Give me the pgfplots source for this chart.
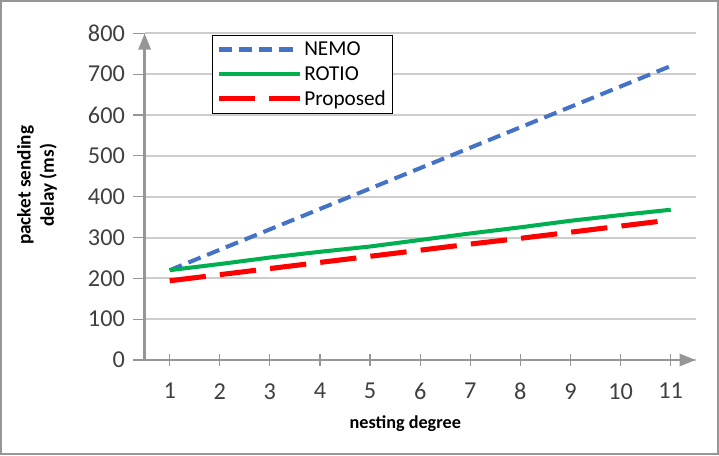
\documentclass[border=0pt]{standalone}
\usepackage{pgfplots}
\pgfplotsset{compat=1.18}
\usepackage{fontspec}
\setmainfont{Carlito}
\usetikzlibrary{arrows.meta}
\definecolor{nemo}{RGB}{68,114,196}
\definecolor{rotio}{RGB}{0,176,80}
\definecolor{prop}{RGB}{255,0,0}
\definecolor{axgray}{RGB}{150,150,150}
\definecolor{gridgray}{RGB}{205,205,205}
\definecolor{ticktext}{RGB}{64,64,64}
\begin{document}
\begin{tikzpicture}
\begin{axis}[
  scale only axis,
  width=545pt, height=323pt,
  xmin=0.5, xmax=11.5, ymin=0, ymax=800,
  axis lines=left,
  axis line style={axgray, line width=2.5pt},
  x axis line style={-{Triangle[length=16pt,width=12pt]}},
  y axis line style={-{Triangle[length=16pt,width=12pt]}},
  xtick={1,...,11}, ytick={0,100,...,800},
  ymajorgrids, grid style={gridgray, line width=2pt},
  xtick align=center, ytick align=outside,
  major tick length=11pt,
  every x tick/.style={axgray, line width=1.2pt},
  every y tick/.style={axgray, line width=1.2pt},
  /pgf/number format/assume math mode=true,
  tick label style={font=\fontsize{24}{26}\selectfont, text=ticktext},
  xticklabel style={yshift=-14pt},
  yticklabel style={xshift=-5pt},
  xlabel={\textbf{nesting degree}},
  every axis x label/.style={font=\fontsize{18}{20}\selectfont, at={(axis description cs:0.473,0)}, anchor=center, yshift=-63pt},
  ylabel={\textbf{packet sending}\\\textbf{delay (ms)}},
  every axis y label/.style={font=\fontsize{19}{23}\selectfont, align=center, at={(axis description cs:-0.195,0.535)}, anchor=center, rotate=90},
  legend style={at={(rel axis cs:0.122,1)}, anchor=north west, yshift=-2pt,
    draw=black, line width=0.8pt, font=\fontsize{21}{23}\selectfont,
    inner xsep=4pt, inner ysep=4pt, row sep=5pt},
  legend cell align=left,
  legend image code/.code={\draw[#1] (0pt,0pt) -- (80pt,0pt);},
  clip=false,
]
\addplot[nemo, line width=4pt, dash pattern=on 13pt off 7pt] coordinates {
 (1,220) (2,270) (3,320) (4,370) (5,420) (6,470) (7,520) (8,570) (9,620) (10,670) (11,720)};
\addlegendentry{NEMO}
\addplot[rotio, line width=4pt] coordinates {
 (1,220) (2,235) (3,251) (4,265) (5,278) (6,294) (7,310) (8,325) (9,341) (10,355) (11,368)};
\addlegendentry{ROTIO}
\addplot[prop, line width=5pt, dash pattern=on 36pt off 14pt] coordinates {
 (1,194) (2,209) (3,224) (4,239) (5,254) (6,269) (7,284) (8,298) (9,313) (10,328) (11,343)};
\addlegendentry{Proposed}
\end{axis}
\draw[axgray, line width=2pt] ([xshift=-142pt,yshift=-93pt]current axis.south west) rectangle ([xshift=567pt,yshift=355pt]current axis.south west);
\end{tikzpicture}
\end{document}
